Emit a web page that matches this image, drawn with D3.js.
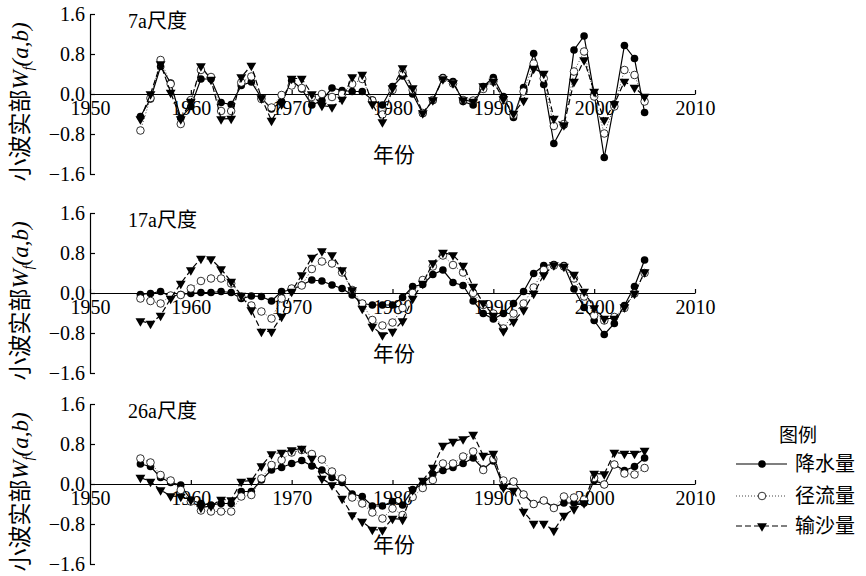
<!DOCTYPE html>
<html>
<head>
<meta charset="utf-8">
<script src="https://cdn.jsdelivr.net/npm/d3@7"></script>
<style>
body { margin: 0; background: #fff; }
text { font-family: "Liberation Serif", "Noto Sans CJK SC", serif; fill: #000; }
</style>
</head>
<body>
<svg id="chart" width="866" height="576"></svg>
<script>
// years 1955-2005
const years = d3.range(1955, 2006);
const scaleLabels = ["7a尺度", "17a尺度", "26a尺度"];
const seriesNames = ["降水量", "径流量", "输沙量"];
const xTicks = [1950, 1960, 1970, 1980, 1990, 2000, 2010];
const yTicks = [1.6, 0.8, 0, -0.8, -1.6];

// 7a scale
const precip7 = [-0.45, -0.1, 0.55, 0.22, -0.48, -0.25, 0.3, 0.3, -0.17, -0.21,
  0.17, 0.24, -0.08, -0.3, -0.15, 0.27, 0.1, -0.22, -0.13, 0.12,
  0.07, 0.05, 0.05, -0.12, -0.22, 0.15, 0.36, 0.0, -0.39, -0.13,
  0.33, 0.25, -0.15, -0.22, 0.15, 0.33, -0.05, -0.47, 0.13, 0.81,
  0.19, -0.99, -0.62, 0.88, 1.16, 0.0, -1.27, -0.2, 0.97, 0.71, -0.37];
const runoff7 = [-0.73, -0.08, 0.68, 0.2, -0.6, -0.12, 0.48, 0.34, -0.34, -0.34,
  0.23, 0.35, -0.1, -0.27, -0.02, 0.17, 0.12, -0.06, 0.0, -0.06,
  0.0, 0.2, 0.3, -0.13, -0.41, 0.08, 0.43, 0.08, -0.38, -0.12,
  0.31, 0.21, -0.12, -0.13, 0.1, 0.25, -0.12, -0.42, 0.05, 0.61,
  0.31, -0.64, -0.6, 0.45, 0.85, -0.05, -0.79, -0.25, 0.48, 0.38, -0.15];
const sediment7 = [-0.5, 0.0, 0.6, 0.03, -0.5, -0.15, 0.56, 0.29, -0.5, -0.49,
  0.34, 0.57, -0.08, -0.53, -0.2, 0.31, 0.31, 0.0, -0.23, -0.26,
  -0.11, 0.34, 0.39, -0.2, -0.56, 0.12, 0.52, 0.12, -0.38, -0.12,
  0.3, 0.22, -0.12, -0.15, 0.16, 0.25, -0.1, -0.39, -0.13, 0.51,
  0.41, -0.49, -0.62, 0.25, 0.68, 0.05, -0.52, -0.2, 0.25, 0.13, -0.05];

// 17a scale
const precip17 = [-0.03, -0.01, 0.03, -0.07, -0.03, -0.01, 0.01, 0.01, 0.03, 0.01,
  -0.11, -0.06, -0.07, -0.16, 0.03, 0.06, 0.16, 0.26, 0.24, 0.16,
  0.09, -0.04, -0.21, -0.24, -0.24, -0.24, -0.09, 0.13, 0.17, 0.37,
  0.46, 0.21, 0.15, -0.16, -0.41, -0.52, -0.41, -0.21, 0.03, 0.39,
  0.55, 0.57, 0.55, 0.08, -0.29, -0.55, -0.83, -0.61, -0.25, 0.13, 0.66];
const runoff17 = [-0.11, -0.16, -0.21, -0.05, -0.04, 0.09, 0.24, 0.29, 0.29, 0.19,
  -0.07, -0.25, -0.37, -0.51, -0.11, 0.09, 0.15, 0.48, 0.63, 0.59,
  0.41, 0.06, -0.21, -0.54, -0.65, -0.59, -0.3, 0.0, 0.26, 0.53,
  0.75, 0.56, 0.41, 0.0, -0.24, -0.41, -0.71, -0.41, -0.21, 0.11,
  0.46, 0.55, 0.53, 0.29, -0.07, -0.45, -0.55, -0.48, -0.3, -0.01, 0.4];
const sediment17 = [-0.56, -0.61, -0.45, -0.11, 0.19, 0.46, 0.69, 0.68, 0.48, 0.23,
  -0.05, -0.34, -0.77, -0.77, -0.47, 0.03, 0.36, 0.71, 0.84, 0.76,
  0.46, 0.06, -0.31, -0.67, -0.84, -0.77, -0.56, -0.11, 0.19, 0.6,
  0.81, 0.76, 0.55, 0.13, -0.2, -0.45, -0.76, -0.57, -0.34, -0.01,
  0.36, 0.56, 0.53, 0.37, 0.03, -0.3, -0.51, -0.51, -0.28, -0.01, 0.42];

// 26a scale
const precip26 = [0.4, 0.35, 0.13, 0.03, -0.02, -0.32, -0.39, -0.42, -0.39, -0.39,
  -0.15, -0.15, 0.08, 0.28, 0.33, 0.41, 0.47, 0.36, 0.28, 0.13,
  0.03, -0.2, -0.25, -0.44, -0.44, -0.35, -0.42, -0.11, 0.0, 0.2,
  0.27, 0.33, 0.41, 0.52, 0.3, 0.46, -0.05, 0.05, -0.21, -0.4,
  -0.33, -0.47, -0.38, -0.38, -0.38, 0.07, -0.01, 0.39, 0.27, 0.35, 0.52];
const runoff26 = [0.51, 0.43, 0.18, 0.07, -0.12, -0.35, -0.53, -0.55, -0.55, -0.55,
  -0.25, -0.22, 0.11, 0.38, 0.48, 0.63, 0.68, 0.6, 0.49, 0.25,
  0.11, -0.27, -0.39, -0.57, -0.69, -0.49, -0.62, -0.26, -0.08, 0.08,
  0.41, 0.41, 0.55, 0.65, 0.28, 0.5, 0.07, 0.05, -0.21, -0.4,
  -0.33, -0.48, -0.25, -0.27, -0.31, 0.12, -0.01, 0.39, 0.21, 0.19, 0.32];
const sediment26 = [0.13, 0.05, -0.12, -0.24, -0.25, -0.32, -0.47, -0.44, -0.31, -0.32,
  0.05, 0.07, 0.36, 0.6, 0.63, 0.68, 0.71, 0.51, 0.11, -0.02,
  -0.29, -0.62, -0.75, -0.91, -0.92, -0.69, -0.71, -0.12, 0.07, 0.33,
  0.77, 0.85, 0.9, 0.99, 0.57, 0.61, -0.07, -0.13, -0.55, -0.79,
  -0.79, -0.93, -0.63, -0.5, -0.38, 0.21, 0.2, 0.63, 0.61, 0.61, 0.67];

const panels = [
  { title: scaleLabels[0], series: [precip7, runoff7, sediment7] },
  { title: scaleLabels[1], series: [precip17, runoff17, sediment17] },
  { title: scaleLabels[2], series: [precip26, runoff26, sediment26] }
];

const svg = d3.select("#chart");
const panelTops = [14, 213, 404];
const panelH = 160;

const x = d3.scaleLinear().domain([1950, 2010]).range([90, 695]);
const fmt = d3.format(".1f");

const styles = [
  { dash: null, stroke: "#000", width: 1.2 },
  { dash: "1,2", stroke: "#444", width: 1 },
  { dash: "6,3", stroke: "#000", width: 1.2 }
];

function drawMarker(sel, k) {
  if (k === 0) {
    sel.append("circle").attr("r", 3.8).attr("fill", "#000");
  } else if (k === 1) {
    sel.append("circle").attr("r", 3.8).attr("fill", "#fff")
      .attr("stroke", "#000").attr("stroke-width", 0.8);
  } else {
    sel.append("path")
      .attr("d", d3.symbol(d3.symbolTriangle, 42))
      .attr("transform", "rotate(180)")
      .attr("fill", "#000");
  }
}

panels.forEach((p, i) => {
  const top = panelTops[i];
  const y = d3.scaleLinear().domain([-1.6, 1.6]).range([top + panelH, top]);
  const g = svg.append("g");

  // y axis, ticks pointing inward
  const yAxis = g.append("g")
    .attr("transform", `translate(${x(1950)},0)`)
    .call(d3.axisLeft(y).tickValues(yTicks).tickFormat(fmt)
      .tickSizeInner(-5).tickSizeOuter(0).tickPadding(5));
  // x axis on the zero line, ticks pointing up
  const xAxis = g.append("g")
    .attr("transform", `translate(0,${y(0)})`)
    .call(d3.axisBottom(x).tickValues(xTicks).tickFormat(d3.format("d"))
      .tickSizeInner(-4).tickSizeOuter(0).tickPadding(7));

  [yAxis, xAxis].forEach(a => {
    a.attr("font-family", null).attr("font-size", null);
    a.selectAll("path, line").attr("stroke", "#000").attr("stroke-width", 1.2);
    a.selectAll("text").attr("font-size", 20).attr("fill", "#000");
  });

  // title
  g.append("text")
    .attr("x", 128).attr("y", top + 14)
    .attr("font-size", 20)
    .text(p.title);

  // x label
  g.append("text")
    .attr("x", 394).attr("y", y(0) + 68)
    .attr("text-anchor", "middle")
    .attr("font-size", 21)
    .text("年份");

  // y label
  const yl = g.append("text")
    .attr("transform", `translate(28,${y(0) + 8}) rotate(-90)`)
    .attr("text-anchor", "middle")
    .attr("font-size", 23);
  yl.append("tspan").text("小波实部");
  yl.append("tspan").attr("font-style", "italic").text("W");
  yl.append("tspan").attr("font-style", "italic").attr("font-size", 14)
    .attr("dy", 5).text("f");
  yl.append("tspan").attr("font-style", "italic").attr("dy", -5).text("(a,b)");

  // series
  p.series.forEach((vals, k) => {
    const pts = years.map((yr, j) => [yr, vals[j]]);
    const line = d3.line().x(d => x(d[0])).y(d => y(d[1]));
    g.append("path")
      .datum(pts)
      .attr("d", line)
      .attr("fill", "none")
      .attr("stroke", styles[k].stroke)
      .attr("stroke-width", styles[k].width)
      .attr("stroke-dasharray", styles[k].dash);
    g.append("g").selectAll("g")
      .data(pts)
      .join("g")
      .attr("transform", d => `translate(${x(d[0])},${y(d[1])})`)
      .each(function() { drawMarker(d3.select(this), k); });
  });
});

// legend
const lg = svg.append("g");
lg.append("text")
  .attr("x", 798).attr("y", 442)
  .attr("text-anchor", "middle")
  .attr("font-size", 19)
  .style("font-family", "'Noto Sans CJK SC', sans-serif")
  .text("图例");
const legendRows = [464, 496, 526];
seriesNames.forEach((name, k) => {
  const ly = legendRows[k];
  lg.append("line")
    .attr("x1", 736).attr("x2", 787)
    .attr("y1", ly).attr("y2", ly)
    .attr("stroke", styles[k].stroke)
    .attr("stroke-width", styles[k].width)
    .attr("stroke-dasharray", styles[k].dash);
  const m = lg.append("g").attr("transform", `translate(762,${ly})`);
  drawMarker(m, k);
  lg.append("text")
    .attr("x", 795).attr("y", ly + 7)
    .attr("font-size", 20)
    .style("font-family", "'Noto Sans CJK SC', sans-serif")
    .text(name);
});
</script>
</body>
</html>
